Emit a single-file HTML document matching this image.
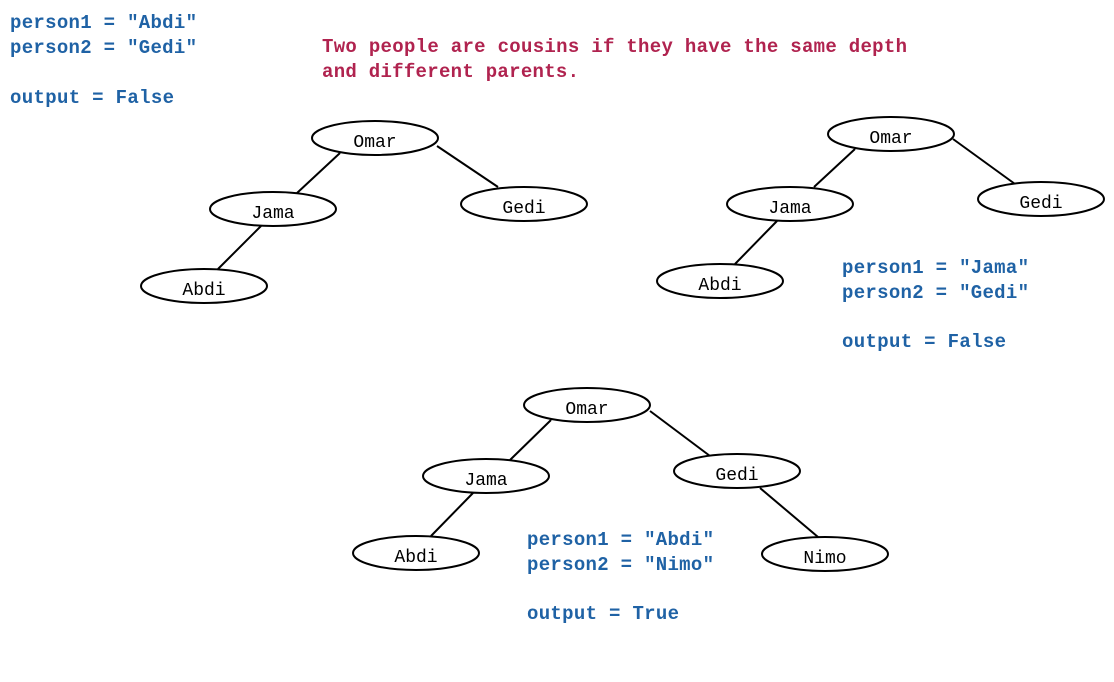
<!DOCTYPE html>
<html><head><meta charset="utf-8"><style>
html,body{margin:0;padding:0;background:#fff;}
svg{display:block;}
.b{fill:#1f62a5;font-family:"Liberation Mono",monospace;font-size:19px;font-weight:bold;}
.r{fill:#b0234f;font-family:"Liberation Mono",monospace;font-size:19px;font-weight:bold;}
.n{fill:#000;font-family:"Liberation Mono",monospace;font-size:18px;text-anchor:middle;}
ellipse{fill:#fff;stroke:#000;stroke-width:2;}
line{stroke:#000;stroke-width:2;}
</style></head><body>
<svg width="1114" height="682" viewBox="0 0 1114 682">
<text class="b" x="10" y="28" textLength="187">person1 = "Abdi"</text>
<text class="b" x="10" y="53" textLength="187">person2 = "Gedi"</text>
<text class="b" x="10" y="103" textLength="164">output = False</text>
<text class="r" x="322" y="52" textLength="585">Two people are cousins if they have the same depth</text>
<text class="r" x="322" y="77" textLength="257">and different parents.</text>

<line x1="340" y1="153" x2="297" y2="193"/>
<line x1="437" y1="146" x2="498" y2="187"/>
<line x1="261" y1="226" x2="218" y2="269"/>
<ellipse cx="375" cy="138" rx="63" ry="17"/><text class="n" x="375" y="147">Omar</text>
<ellipse cx="273" cy="209" rx="63" ry="17"/><text class="n" x="273" y="218">Jama</text>
<ellipse cx="524" cy="204" rx="63" ry="17"/><text class="n" x="524" y="213">Gedi</text>
<ellipse cx="204" cy="286" rx="63" ry="17"/><text class="n" x="204" y="295">Abdi</text>

<line x1="855" y1="149" x2="814" y2="187"/>
<line x1="953" y1="139" x2="1015" y2="184"/>
<line x1="777" y1="221" x2="735" y2="264"/>
<ellipse cx="891" cy="134" rx="63" ry="17"/><text class="n" x="891" y="143">Omar</text>
<ellipse cx="790" cy="204" rx="63" ry="17"/><text class="n" x="790" y="213">Jama</text>
<ellipse cx="1041" cy="199" rx="63" ry="17"/><text class="n" x="1041" y="208">Gedi</text>
<ellipse cx="720" cy="281" rx="63" ry="17"/><text class="n" x="720" y="290">Abdi</text>
<text class="b" x="842" y="273" textLength="187">person1 = "Jama"</text>
<text class="b" x="842" y="298" textLength="187">person2 = "Gedi"</text>
<text class="b" x="842" y="347" textLength="164">output = False</text>

<line x1="551" y1="420" x2="510" y2="460"/>
<line x1="650" y1="411" x2="710" y2="456"/>
<line x1="473" y1="493" x2="431" y2="536"/>
<line x1="760" y1="488" x2="818" y2="537"/>
<ellipse cx="587" cy="405" rx="63" ry="17"/><text class="n" x="587" y="414">Omar</text>
<ellipse cx="486" cy="476" rx="63" ry="17"/><text class="n" x="486" y="485">Jama</text>
<ellipse cx="737" cy="471" rx="63" ry="17"/><text class="n" x="737" y="480">Gedi</text>
<ellipse cx="416" cy="553" rx="63" ry="17"/><text class="n" x="416" y="562">Abdi</text>
<ellipse cx="825" cy="554" rx="63" ry="17"/><text class="n" x="825" y="563">Nimo</text>
<text class="b" x="527" y="545" textLength="187">person1 = "Abdi"</text>
<text class="b" x="527" y="570" textLength="187">person2 = "Nimo"</text>
<text class="b" x="527" y="619" textLength="152">output = True</text>
</svg>
</body></html>
